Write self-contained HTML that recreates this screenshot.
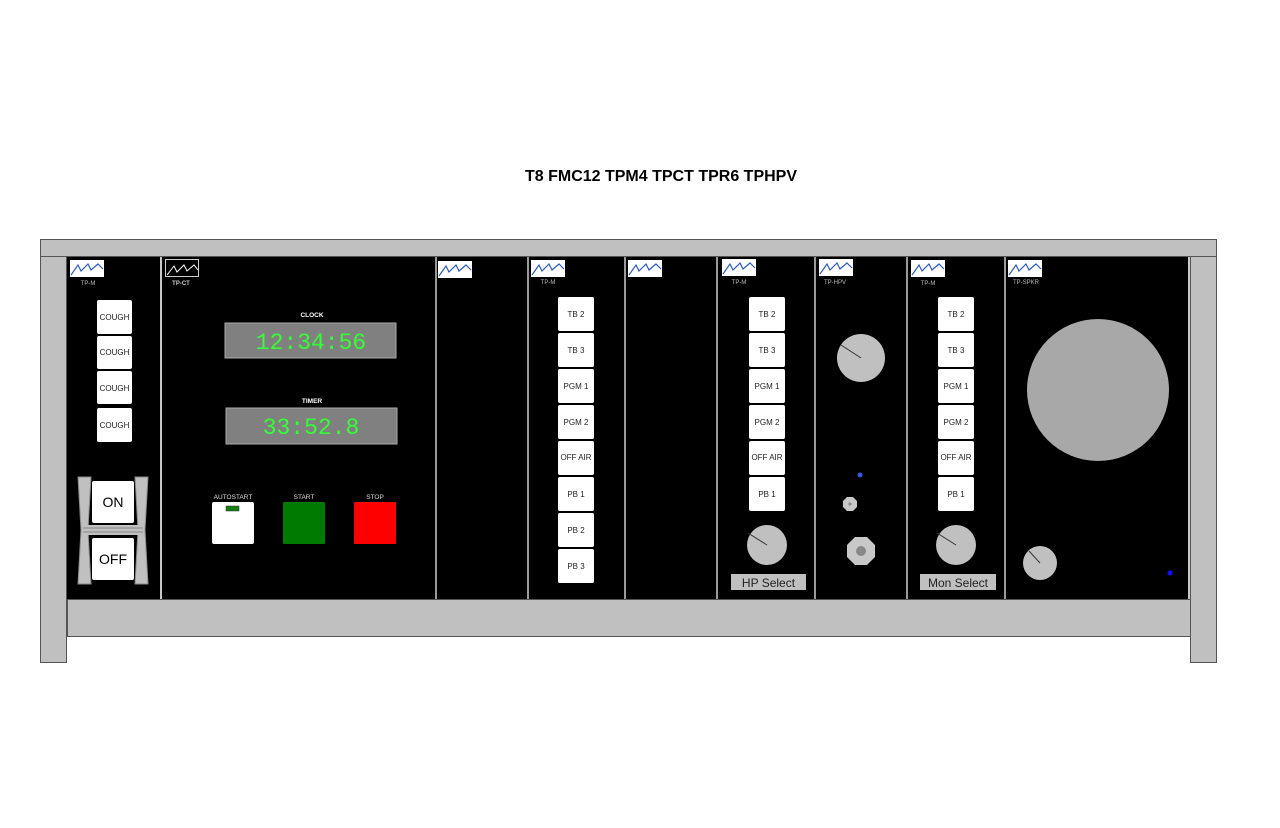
<!DOCTYPE html>
<html><head><meta charset="utf-8"><style>
html,body{margin:0;padding:0;background:#fff;}
svg{display:block;}
text{font-family:"Liberation Sans",Arial,sans-serif;}
</style></head><body>
<svg width="1280" height="828" viewBox="0 0 1280 828" xmlns="http://www.w3.org/2000/svg">
<defs>
<g id="logo"><rect x="0" y="0" width="34" height="17" fill="#fff"/><polyline points="1,15 8,5 11,11 18,4 21,10 28,4 33,9" fill="none" stroke="#2a5ac8" stroke-width="1.2"/></g>
</defs>
<text x="661" y="181" text-anchor="middle" font-size="16" font-weight="bold">T8 FMC12 TPM4 TPCT TPR6 TPHPV</text>
<rect x="40.5" y="239.5" width="1176" height="17" fill="#c0c0c0" stroke="#555"/>
<rect x="40.5" y="256.5" width="26" height="406" fill="#c0c0c0" stroke="#555"/>
<rect x="1190.5" y="256.5" width="26" height="406" fill="#c0c0c0" stroke="#555"/>
<rect x="67.5" y="599.5" width="1123" height="37" fill="#c0c0c0" stroke="#555"/>
<rect x="67" y="257" width="1123" height="342" fill="#000"/>
<g fill="#c8c8c8">
<rect x="160" y="257" width="2" height="342"/>
<rect x="435" y="257" width="2" height="342" fill="#999"/>
<rect x="527" y="257" width="2" height="342" fill="#999"/>
<rect x="624" y="257" width="2" height="342" fill="#999"/>
<rect x="716" y="257" width="2" height="342" fill="#999"/>
<rect x="814" y="257" width="2" height="342" fill="#999"/>
<rect x="906" y="257" width="2" height="342" fill="#999"/>
<rect x="1004" y="257" width="2" height="342" fill="#999"/>
<rect x="1188" y="257" width="2" height="342"/>
</g>
<use href="#logo" x="70" y="260"/>
<text x="88" y="285" font-size="6" fill="#bbb" text-anchor="middle">TP-M</text>
<g font-size="8" text-anchor="middle" fill="#222">
<rect x="97" y="300" width="35" height="34" rx="2" fill="#fff"/><text x="114.5" y="320">COUGH</text>
<rect x="97" y="336" width="35" height="33" rx="2" fill="#fff"/><text x="114.5" y="355">COUGH</text>
<rect x="97" y="371" width="35" height="33" rx="2" fill="#fff"/><text x="114.5" y="391">COUGH</text>
<rect x="97" y="408" width="35" height="34" rx="2" fill="#fff"/><text x="114.5" y="428">COUGH</text>
</g>
<polygon points="78,477 91,477 88,530 91,584 78,584 81,530" fill="#c0c0c0" stroke="#888"/>
<polygon points="135,477 148,477 145,530 148,584 135,584 138,530" fill="#c0c0c0" stroke="#888"/>
<rect x="83" y="525" width="60" height="10" fill="#c0c0c0"/>
<line x1="83" y1="528" x2="143" y2="528" stroke="#888"/><line x1="83" y1="532" x2="143" y2="532" stroke="#888"/>
<rect x="92" y="481" width="42" height="42" rx="2" fill="#fff"/>
<rect x="92" y="538" width="42" height="42" rx="2" fill="#fff"/>
<text x="113" y="507" font-size="14" text-anchor="middle">ON</text>
<text x="113" y="564" font-size="14" text-anchor="middle">OFF</text>
<rect x="165.5" y="259.5" width="33" height="17" fill="#000" stroke="#ccc"/>
<polyline points="167,275 174,266 177,272 184,265 187,271 194,265 198,270" fill="none" stroke="#fff" stroke-width="1"/>
<text x="181" y="285" font-size="6" font-weight="bold" fill="#ccc" text-anchor="middle">TP-CT</text>
<text x="312" y="317" font-size="6.5" font-weight="bold" fill="#fff" text-anchor="middle">CLOCK</text>
<rect x="225" y="323" width="171" height="35" fill="#808080" stroke="#aaa"/>
<text x="311" y="349" style="font-family:'Liberation Mono',monospace" font-size="23" fill="#33ff33" text-anchor="middle">12:34:56</text>
<text x="312" y="403" font-size="6.5" font-weight="bold" fill="#fff" text-anchor="middle">TIMER</text>
<rect x="226" y="408" width="171" height="36" fill="#808080" stroke="#aaa"/>
<text x="311" y="434" style="font-family:'Liberation Mono',monospace" font-size="23" fill="#33ff33" text-anchor="middle">33:52.8</text>
<g font-size="6.5" fill="#ddd" text-anchor="middle"><text x="233" y="499">AUTOSTART</text><text x="304" y="499">START</text><text x="375" y="499">STOP</text></g>
<rect x="212" y="502" width="42" height="42" rx="2" fill="#fff"/>
<rect x="226" y="506" width="13" height="5" fill="#108010" stroke="#333" stroke-width="0.5"/>
<rect x="283" y="502" width="42" height="42" rx="1" fill="#007a00"/>
<rect x="354" y="502" width="42" height="42" rx="1" fill="#ff0000"/>
<use href="#logo" x="438" y="261"/>
<use href="#logo" x="628" y="260"/>
<use href="#logo" x="531" y="260"/>
<text x="548" y="284" font-size="6" fill="#bbb" text-anchor="middle">TP-M</text>
<g font-size="8" text-anchor="middle" fill="#222">
<rect x="558" y="297" width="36" height="34" rx="2" fill="#fff"/><text x="576" y="317">TB 2</text>
<rect x="558" y="333" width="36" height="34" rx="2" fill="#fff"/><text x="576" y="353">TB 3</text>
<rect x="558" y="369" width="36" height="34" rx="2" fill="#fff"/><text x="576" y="389">PGM 1</text>
<rect x="558" y="405" width="36" height="34" rx="2" fill="#fff"/><text x="576" y="425">PGM 2</text>
<rect x="558" y="441" width="36" height="34" rx="2" fill="#fff"/><text x="576" y="460">OFF AIR</text>
<rect x="558" y="477" width="36" height="34" rx="2" fill="#fff"/><text x="576" y="497">PB 1</text>
<rect x="558" y="513" width="36" height="34" rx="2" fill="#fff"/><text x="576" y="533">PB 2</text>
<rect x="558" y="549" width="36" height="34" rx="2" fill="#fff"/><text x="576" y="569">PB 3</text>
</g>
<use href="#logo" x="722" y="259"/>
<text x="739" y="284" font-size="6" fill="#bbb" text-anchor="middle">TP-M</text>
<g font-size="8" text-anchor="middle" fill="#222">
<rect x="749" y="297" width="36" height="34" rx="2" fill="#fff"/><text x="767" y="317">TB 2</text>
<rect x="749" y="333" width="36" height="34" rx="2" fill="#fff"/><text x="767" y="353">TB 3</text>
<rect x="749" y="369" width="36" height="34" rx="2" fill="#fff"/><text x="767" y="389">PGM 1</text>
<rect x="749" y="405" width="36" height="34" rx="2" fill="#fff"/><text x="767" y="425">PGM 2</text>
<rect x="749" y="441" width="36" height="34" rx="2" fill="#fff"/><text x="767" y="460">OFF AIR</text>
<rect x="749" y="477" width="36" height="34" rx="2" fill="#fff"/><text x="767" y="497">PB 1</text>
</g>
<circle cx="767" cy="545" r="20" fill="#c0c0c0"/>
<line x1="748" y1="533" x2="767" y2="545" stroke="#333" stroke-width="1"/>
<rect x="731" y="574" width="75" height="16" fill="#c0c0c0"/>
<text x="768.5" y="587" font-size="12" text-anchor="middle" fill="#222">HP Select</text>
<use href="#logo" x="819" y="259"/>
<text x="835" y="284" font-size="6" fill="#bbb" text-anchor="middle">TP-HPV</text>
<circle cx="861" cy="358" r="24" fill="#c0c0c0"/>
<line x1="841" y1="345" x2="861" y2="358" stroke="#333" stroke-width="1"/>
<circle cx="860" cy="475" r="2.5" fill="#2a5ae0"/>
<polygon points="847,497 853,497 857,501 857,507 853,511 847,511 843,507 843,501" fill="#c8c8c8"/>
<circle cx="850" cy="504" r="1.5" fill="#888"/>
<polygon points="855,537 867,537 875,545 875,557 867,565 855,565 847,557 847,545" fill="#c8c8c8"/>
<circle cx="861" cy="551" r="5" fill="#888"/>
<use href="#logo" x="911" y="260"/>
<text x="928" y="285" font-size="6" fill="#bbb" text-anchor="middle">TP-M</text>
<g font-size="8" text-anchor="middle" fill="#222">
<rect x="938" y="297" width="36" height="34" rx="2" fill="#fff"/><text x="956" y="317">TB 2</text>
<rect x="938" y="333" width="36" height="34" rx="2" fill="#fff"/><text x="956" y="353">TB 3</text>
<rect x="938" y="369" width="36" height="34" rx="2" fill="#fff"/><text x="956" y="389">PGM 1</text>
<rect x="938" y="405" width="36" height="34" rx="2" fill="#fff"/><text x="956" y="425">PGM 2</text>
<rect x="938" y="441" width="36" height="34" rx="2" fill="#fff"/><text x="956" y="460">OFF AIR</text>
<rect x="938" y="477" width="36" height="34" rx="2" fill="#fff"/><text x="956" y="497">PB 1</text>
</g>
<circle cx="956" cy="545" r="20" fill="#c0c0c0"/>
<line x1="937" y1="533" x2="956" y2="545" stroke="#333" stroke-width="1"/>
<rect x="920" y="574" width="76" height="16" fill="#c0c0c0"/>
<text x="958" y="587" font-size="12" text-anchor="middle" fill="#222">Mon Select</text>
<use href="#logo" x="1008" y="260"/>
<text x="1026" y="284" font-size="6" fill="#bbb" text-anchor="middle">TP-SPKR</text>
<circle cx="1098" cy="390" r="71" fill="#a8a8a8"/>
<circle cx="1040" cy="563" r="17" fill="#c0c0c0"/>
<line x1="1029" y1="551" x2="1040" y2="563" stroke="#333" stroke-width="1"/>
<circle cx="1170" cy="573" r="2.5" fill="#1010ff"/>
</svg>
</body></html>
